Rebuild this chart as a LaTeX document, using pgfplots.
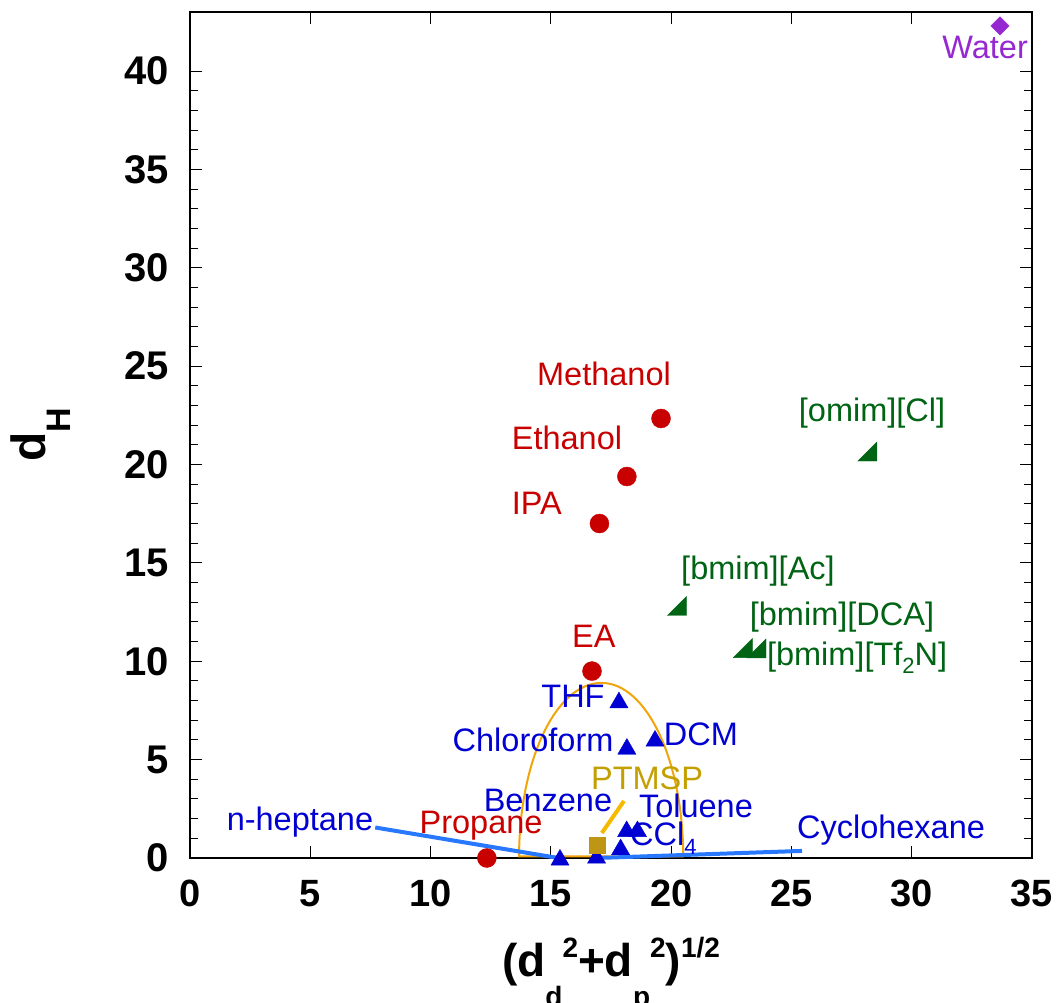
\documentclass[border=0pt]{standalone}
\usepackage{pgfplots}
\pgfplotsset{compat=1.18}
\usepackage{fontspec}
\setmainfont{Liberation Sans}
\definecolor{cred}{RGB}{200,0,0}
\definecolor{cblue}{RGB}{0,0,210}
\definecolor{cgreen}{RGB}{0,100,20}
\definecolor{cpurple}{RGB}{150,40,210}
\definecolor{clblue}{RGB}{40,120,255}
\definecolor{corange}{RGB}{240,165,10}
\definecolor{cgold}{RGB}{195,160,0}
\definecolor{cgoldsq}{RGB}{190,150,20}
\definecolor{cgoldln}{RGB}{245,185,0}
\pgfdeclareplotmark{rtri}{%
  \pgfpathmoveto{\pgfqpoint{-\pgfplotmarksize}{-\pgfplotmarksize}}%
  \pgfpathlineto{\pgfqpoint{\pgfplotmarksize}{-\pgfplotmarksize}}%
  \pgfpathlineto{\pgfqpoint{\pgfplotmarksize}{\pgfplotmarksize}}%
  \pgfpathclose\pgfusepathqfillstroke}
\newcommand\lf{\fontsize{32.5}{36}\selectfont}
\newcommand\sub[1]{\raisebox{-0.25em}{\fontsize{22}{22}\selectfont #1}}
\newcommand\xs[1]{\raisebox{-30pt}{\fontsize{28}{28}\selectfont #1}}
\newcommand\xp[1]{\raisebox{19pt}{\fontsize{28}{28}\selectfont #1}}
\begin{document}
\begin{tikzpicture}
\path[use as bounding box] (-190pt,-145pt) rectangle (870pt,858pt);
\begin{axis}[
  at={(0,0)}, anchor=south west,
  scale only axis, width=842pt, height=846pt,
  xmin=0, xmax=35, ymin=0, ymax=43,
  xtick={0,5,...,35}, ytick={0,5,...,40}, minor y tick num=4,
  tick align=inside, major tick length=12pt, minor tick length=8pt,
  axis line style={line width=1.3pt},
  every tick/.style={black, line width=1pt},
  /pgf/number format/assume math mode=true,
  yticklabel style={font=\fontsize{40}{40}\selectfont\bfseries, inner sep=0pt, xshift=-21pt},
  xticklabel style={font=\fontsize{38}{38}\selectfont\bfseries, inner sep=0pt, yshift=-22pt},
  clip=false,
  xlabel={(d\xs{d}\xp{2}+d\xs{p}\xp{2})\xp{1/2}},
  xlabel style={font=\fontsize{46}{46}\selectfont\bfseries, at={(axis description cs:0.5,-0.1395)}, anchor=base, inner sep=0pt},
  ylabel={d\raisebox{-25pt}{\fontsize{34}{34}\selectfont H}},
  ylabel style={font=\fontsize{48}{48}\selectfont\bfseries, at={(axis description cs:-0.1722,0.5)}, anchor=base, inner sep=0pt},
]
% PTMSP region
\draw[corange, line width=2pt] (axis cs:13.68,0.08) .. controls (axis cs:13.68,4.9) and (axis cs:15.2,8.9) .. (axis cs:17.1,8.9) .. controls (axis cs:19.0,8.9) and (axis cs:20.5,4.9) .. (axis cs:20.5,0.08) -- cycle;
% connector lines
\addplot[clblue, line width=4pt, no marks] coordinates {(7.7,1.55) (15.3,0.0)};
\addplot[clblue, line width=4pt, no marks] coordinates {(16.9,0.0) (25.44,0.36)};
\addplot[cgoldln, line width=4pt, no marks] coordinates {(17.12,1.27) (18.04,2.9)};
% alcohols etc.
\addplot[only marks, mark=*, mark size=9.5pt, mark options={draw=cred, fill=cred}] coordinates {
 (19.58,22.34) (18.16,19.39) (17.02,17.0) (16.71,9.5) (12.34,0.0)};
% solvents
\addplot[only marks, mark=triangle*, mark size=10.5pt, mark options={draw=cblue, fill=cblue}] coordinates {
 (17.83,7.9) (18.16,5.54) (19.33,5.95) (18.15,1.35) (18.6,1.35) (17.9,0.43) (15.38,-0.1) (16.9,0.0)};
% ionic liquids
\addplot[only marks, mark=rtri, mark size=9.5pt, mark options={draw=cgreen, fill=cgreen}] coordinates {
 (28.16,20.66) (20.24,12.81) (22.98,10.67) (23.55,10.65)};
% water
\addplot[only marks, mark=square*, mark size=6.5pt, mark options={draw=cpurple, fill=cpurple, rotate=45}] coordinates {(33.67,42.29)};
% PTMSP
\addplot[only marks, mark=square*, mark size=8pt, mark options={draw=cgoldsq, fill=cgoldsq}] coordinates {(16.92,0.66)};
% labels
\begin{scope}[every node/.style={font=\lf, inner sep=0pt}]
\node[text=cred] at (axis cs:17.21,24.60) {Methanol};
\node[text=cred] at (axis cs:15.67,21.35) {Ethanol};
\node[text=cred] at (axis cs:14.42,18.05) {IPA};
\node[text=cred] at (axis cs:16.79,11.28) {EA};
\node[text=cred] at (axis cs:12.10,1.63) {Propane};
\node[text=cblue] at (axis cs:4.57,1.83) {n-heptane};
\node[text=cblue] at (axis cs:15.92,8.23) {THF};
\node[text=cblue] at (axis cs:14.26,6.00) {Chloroform};
\node[text=cblue] at (axis cs:21.24,6.30) {DCM};
\node[text=cgold] at (axis cs:19.00,4.07) {PTMSP};
\node[text=cblue] at (axis cs:14.88,2.90) {Benzene};
\node[text=cblue] at (axis cs:21.03,2.64) {Toluene};
\node[text=cblue, anchor=base west] at (axis cs:18.29,0.61) {CCl\sub{4}};
\node[text=cblue] at (axis cs:29.14,1.40) {Cyclohexane};
\node[text=cpurple] at (axis cs:33.05,41.20) {Water};
\node[text=cgreen] at (axis cs:28.35,22.62) {[omim][Cl]};
\node[text=cgreen] at (axis cs:23.61,14.59) {[bmim][Ac]};
\node[text=cgreen] at (axis cs:27.10,12.22) {[bmim][DCA]};
\node[text=cgreen] at (axis cs:27.73,10.19) {[bmim][Tf\sub{2}N]};
\end{scope}
\end{axis}
\end{tikzpicture}
\end{document}
